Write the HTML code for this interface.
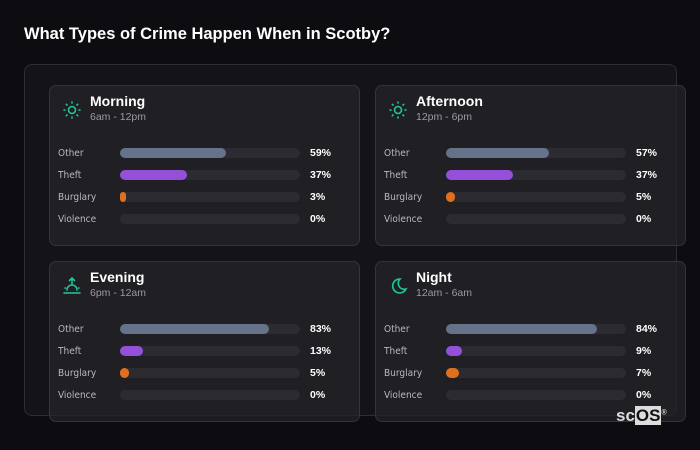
<!DOCTYPE html>
<html><head><meta charset="utf-8"><style>
body{margin:0;width:700px;height:450px;background:#0d0d11;font-family:"Liberation Sans",sans-serif;position:relative;overflow:hidden;color:#fff}
.title{position:absolute;left:24px;top:25px;font-size:16.5px;font-weight:bold;color:#fff}
.outer{position:absolute;left:24px;top:64px;width:651px;height:350px;border:1px solid #2e2e34;border-radius:8px;background:#141418}
.card{position:absolute;width:309px;height:159px;border:1px solid #34343a;border-radius:7px;background:rgba(36,36,42,0.7)}
.ct{position:absolute;left:40px;top:7px;font-size:14px;font-weight:bold}
.cs{position:absolute;left:40px;top:25px;font-size:10.5px;color:#9a9aa2}
.ic{position:absolute;left:12px;top:14px}
.row{position:absolute;left:0;width:309px;height:14px}
.lb{position:absolute;left:8px;top:2px;color:#b8b8c0;font-family:"DejaVu Sans Condensed","DejaVu Sans",sans-serif;font-size:10px}
.tr{position:absolute;left:70px;top:2px;width:180px;height:10px;border-radius:5px;background:#2b2b31}
.br{position:absolute;left:0;top:0;height:10px;border-radius:5px}
.vl{position:absolute;left:260px;top:1px;font-size:10.5px;font-weight:bold;color:#fff}
.logo{position:absolute;left:616px;top:406px;font-size:17px;font-weight:bold;color:#ddd}
.logo span{background:#ddd;color:#111;padding:0 1px}
</style></head><body>
<div class="title">What Types of Crime Happen When in Scotby?</div>
<div class="outer"></div>
<div id="cards"></div>
<div class="logo">sc<span>OS</span><sup style="font-size:7px">®</sup></div>
<script>
const periods=["Morning","Afternoon","Evening","Night"];
const ranges=["6am - 12pm","12pm - 6pm","6pm - 12am","12am - 6am"];
const categories=["Other","Theft","Burglary","Violence"];
const morning=[59,37,3,0];
const afternoon=[57,37,5,0];
const evening=[83,13,5,0];
const night=[84,9,7,0];
const values=[morning,afternoon,evening,night];
const colors=["#66718a","#9450d8","#e0701e","#555"];
const pos=[[49,85],[375,85],[49,261],[375,261]];
const g="#1fc69a";
const icons=[
`<svg width="20" height="20" viewBox="0 0 20 20"><circle cx="10" cy="10" r="3.5" fill="none" stroke="${g}" stroke-width="1.6"/><g stroke="${g}" stroke-width="1.6" stroke-linecap="round"><path d="M10 2v1M10 17v1M2 10h1M17 10h1M4.3 4.3l.7.7M15 15l.7.7M4.3 15.7l.7-.7M15 5l.7-.7"/></g></svg>`,
null,
`<svg width="20" height="20" viewBox="0 0 20 20" stroke="${g}" stroke-width="1.6" fill="none" stroke-linecap="round"><path d="M10 2v6M7.5 4.5L10 2l2.5 2.5M5 14a5 5 0 0 1 10 0M2 17h16M3 12h.5M16.5 12h.5"/></svg>`,
`<svg width="20" height="20" viewBox="0 0 20 20"><path d="M12 3a7 7 0 1 0 6 10A6 6 0 0 1 12 3z" fill="none" stroke="${g}" stroke-width="1.6"/></svg>`];
icons[1]=icons[0];
const x=v=>v/100*180;
const root=document.getElementById('cards');
periods.forEach((p,i)=>{
 const c=document.createElement('div');c.className='card';
 
 
 c.style.left=pos[i][0]+'px';c.style.top=pos[i][1]+'px';
 c.innerHTML=`<div class="ic">${icons[i]}</div><div class="ct">${p}</div><div class="cs">${ranges[i]}</div>`;
 categories.forEach((cat,j)=>{
  const r=document.createElement('div');r.className='row';r.style.top=(60+j*22)+'px';
  
  
  const v=values[i][j];
  const w=v>0?Math.max(x(v),6):0;
  r.innerHTML=`<div class="lb">${cat}</div><div class="tr"><div class="br" style="width:${w}px;background:${colors[j]}"></div></div><div class="vl">${v}%</div>`;
  c.appendChild(r);
 });
 root.appendChild(c);
});
</script>
</body></html>
